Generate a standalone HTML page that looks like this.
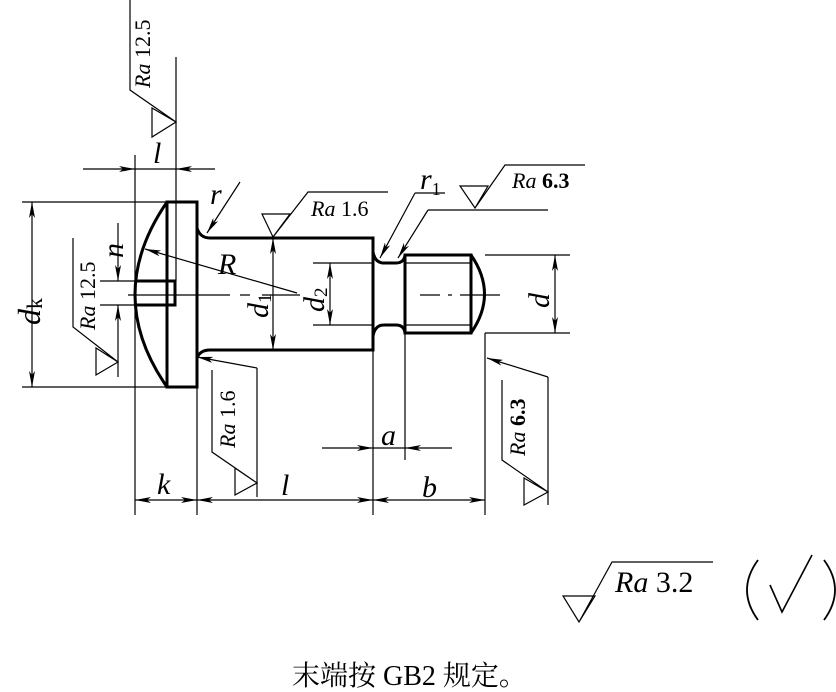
<!DOCTYPE html>
<html><head><meta charset="utf-8"><style>
html,body{margin:0;padding:0;background:#fff;}
svg{display:block;}
text{font-family:"Liberation Serif","Noto Serif CJK SC",serif;fill:#000;}
.i{font-style:italic;}
</style></head><body>
<svg width="836" height="692" viewBox="0 0 836 692" xmlns="http://www.w3.org/2000/svg">
<defs>
<marker id="a" viewBox="0 0 16 6" refX="16" refY="3" markerWidth="16" markerHeight="6" markerUnits="userSpaceOnUse" orient="auto-start-reverse"><path d="M0,0 L16,3 L0,6 L4,3 Z" fill="#000"/></marker>
</defs>
<g fill="none" stroke="#000">
<g stroke-width="3">
<rect x="167" y="202" width="30" height="185"/>
<path d="M167,202 Q103,295 167,387"/>
<path d="M136,281 H175 V305 H136"/>
<path d="M197,228 Q200,238 210,238 H373 V350 H210 Q200,350 197,358"/>
<path d="M373,252 Q375,263 384,263 H396 Q404,263 405,255 M373,336 Q375,325 384,325 H396 Q404,325 405,333"/>
<path d="M405,255 H471 V333 H405 Z"/>
<path d="M471,255 Q498,294 471,333"/>
</g>
<g stroke-width="1.2">
<line x1="405" y1="263" x2="471" y2="263"/><line x1="405" y1="325" x2="471" y2="325"/>
<path d="M128,295 H230 M240,295 H250 M262,295 H300" />
<path d="M420,295 H440 M448,295 H452 M460,295 H500"/>
<line x1="135" y1="155" x2="135" y2="515"/>
<line x1="176" y1="57" x2="176" y2="281"/>
<line x1="197" y1="387" x2="197" y2="515"/>
<line x1="373" y1="350" x2="373" y2="515"/>
<line x1="405" y1="333" x2="405" y2="460"/>
<line x1="485" y1="333" x2="485" y2="515"/>
<line x1="22" y1="202" x2="167" y2="202"/><line x1="22" y1="387" x2="167" y2="387"/>
<line x1="100" y1="281" x2="135" y2="281"/><line x1="100" y1="305" x2="135" y2="305"/>
<line x1="313" y1="263" x2="373" y2="263"/><line x1="313" y1="325" x2="373" y2="325"/>
<line x1="485" y1="255" x2="570" y2="255"/><line x1="485" y1="333" x2="570" y2="333"/>
<line x1="83" y1="169" x2="135" y2="169" marker-end="url(#a)"/>
<line x1="215" y1="169" x2="176" y2="169" marker-end="url(#a)"/>
<line x1="135" y1="169" x2="176" y2="169"/>
<line x1="32" y1="202" x2="32" y2="387" marker-start="url(#a)" marker-end="url(#a)"/>
<line x1="118" y1="223" x2="118" y2="281" marker-end="url(#a)"/>
<line x1="118" y1="377" x2="118" y2="305" marker-end="url(#a)"/>
<line x1="297" y1="293" x2="145" y2="249" marker-end="url(#a)"/>
<line x1="273" y1="238" x2="273" y2="350" marker-start="url(#a)" marker-end="url(#a)"/>
<line x1="330" y1="263" x2="330" y2="325" marker-start="url(#a)" marker-end="url(#a)"/>
<line x1="555" y1="255" x2="555" y2="333" marker-start="url(#a)" marker-end="url(#a)"/>
<line x1="135" y1="500" x2="197" y2="500" marker-start="url(#a)" marker-end="url(#a)"/>
<line x1="197" y1="500" x2="373" y2="500" marker-start="url(#a)" marker-end="url(#a)"/>
<line x1="373" y1="500" x2="485" y2="500" marker-start="url(#a)" marker-end="url(#a)"/>
<line x1="322" y1="448" x2="373" y2="448" marker-end="url(#a)"/>
<line x1="452" y1="448" x2="405" y2="448" marker-end="url(#a)"/>
<line x1="373" y1="448" x2="405" y2="448"/>
<line x1="240" y1="182" x2="207" y2="233" marker-end="url(#a)"/>
<path d="M445,193 H415" /><line x1="415" y1="193" x2="380" y2="258" marker-end="url(#a)"/>
<path d="M548,210 H428"/><line x1="428" y1="210" x2="398" y2="258" marker-end="url(#a)"/>
<path d="M130,0 V90 L176,122 M152,108 L176,122 L152,137 Z"/>
<path d="M73,238 V327 L118,362 M96,348 L118,362 L96,375 Z"/>
<path d="M262,214 H290 L273,237 Z M273,237 L308,192 H388"/>
<path d="M460,186 H488 L475,208 Z M475,208 L505,165 H585"/>
<line x1="257" y1="368" x2="197" y2="357" marker-end="url(#a)"/>
<path d="M257,368 V497 M212,370 V452 L257,483 M235,468 L257,483 L235,495 Z"/>
<line x1="548" y1="377" x2="487" y2="358" marker-end="url(#a)"/>
<path d="M548,377 V505 M502,380 V460 L548,492 M524,478 L548,492 L524,505 Z"/>
<path d="M563,596 H595 L579,622 Z M579,622 L612,562 H713"/>
<path d="M770,585 L782,612 L812,555" stroke-width="1.6"/>
<path d="M758,560 Q736,590 758,620" stroke-width="1.8"/>
<path d="M824,560 Q846,590 824,620" stroke-width="1.8"/>
</g>
</g>
<text x="0" y="0" font-size="22" transform="translate(150,88) rotate(-90)"><tspan class="i">Ra</tspan> 12.5</text>
<text x="0" y="0" font-size="22" transform="translate(95,330) rotate(-90)"><tspan class="i">Ra</tspan> 12.5</text>
<text x="0" y="0" font-size="22" transform="translate(235,448) rotate(-90)"><tspan class="i">Ra</tspan> 1.6</text>
<text x="0" y="0" font-size="22" transform="translate(525,456) rotate(-90)"><tspan class="i">Ra</tspan> <tspan font-weight="bold">6.3</tspan></text>
<text x="311" y="216" font-size="22"><tspan class="i">Ra</tspan> 1.6</text>
<text x="512" y="188" font-size="22"><tspan class="i">Ra</tspan> <tspan font-weight="bold">6.3</tspan></text>
<text x="615" y="592" font-size="30"><tspan class="i">Ra</tspan> 3.2</text>
<text class="i" x="153" y="163" font-size="30">l</text>
<text class="i" x="281" y="495" font-size="30">l</text>
<text class="i" x="157" y="494" font-size="30">k</text>
<text class="i" x="422" y="497" font-size="30">b</text>
<text class="i" x="381" y="445" font-size="30">a</text>
<text class="i" x="218" y="274" font-size="30">R</text>
<text class="i" x="210" y="204" font-size="30">r</text>
<text class="i" x="420" y="189" font-size="30">r<tspan font-size="18" font-style="normal" dy="6">1</tspan></text>
<text x="0" y="0" font-size="32" transform="translate(40,325) rotate(-90)"><tspan class="i">d</tspan><tspan font-size="22" dy="2">k</tspan></text>
<text x="0" y="0" font-size="30" transform="translate(123,258) rotate(-90)" class="i">n</text>
<text x="0" y="0" font-size="30" transform="translate(268,318) rotate(-90)"><tspan class="i">d</tspan><tspan font-size="19" dy="3">1</tspan></text>
<text x="0" y="0" font-size="30" transform="translate(324,312) rotate(-90)"><tspan class="i">d</tspan><tspan font-size="19" dy="3">2</tspan></text>
<text x="0" y="0" font-size="30" transform="translate(549,308) rotate(-90)" class="i">d</text>
<text x="292" y="685" font-size="28">末端按 GB2 规定。</text>
</svg>
</body></html>
